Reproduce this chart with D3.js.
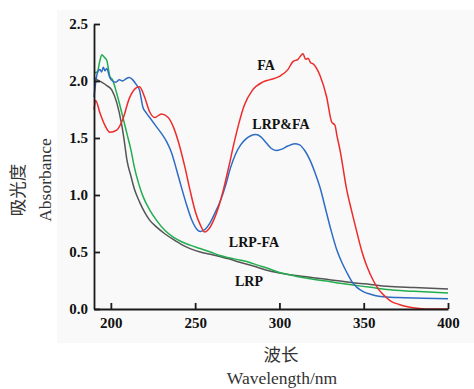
<!DOCTYPE html>
<html>
<head>
<meta charset="utf-8">
<script src="https://cdn.jsdelivr.net/npm/d3@7"></script>
<style>
  body { margin: 0; background: #fff; }
  .tick text { font-family: "Liberation Serif", serif; font-weight: bold; font-size: 15px; fill: #111; }
  .curve-label { font-family: "Liberation Serif", serif; font-weight: bold; font-size: 14px; fill: #111; }
  .axis-title { font-family: "Liberation Serif", serif; font-size: 17.5px; fill: #333; }
</style>
</head>
<body>
<div id="chart"></div>
<script>
// absorbance spectra, [wavelength nm, absorbance]
const faPoints = [
  [190, 1.75], [191, 1.83], [193.5, 1.72], [196.5, 1.61], [199.4, 1.55], [203.5, 1.57],
  [207, 1.66], [211, 1.85], [215, 1.94], [217, 1.95], [220, 1.86], [223, 1.73],
  [226, 1.68], [230, 1.71], [234, 1.68], [237, 1.60], [240, 1.47], [244, 1.24],
  [247, 1.04], [250, 0.86], [253, 0.74], [255.7, 0.675], [258, 0.70], [261, 0.78],
  [264, 0.90], [267, 1.06], [270, 1.25], [273, 1.45], [276, 1.63], [279, 1.78],
  [284, 1.92], [290, 1.99], [294, 2.01], [300, 2.04], [305, 2.10], [308, 2.17],
  [311, 2.19], [314, 2.24], [315.5, 2.19], [317, 2.20], [318.5, 2.16], [320, 2.15],
  [324, 2.05], [328, 1.86], [331, 1.64], [333, 1.61], [334, 1.53], [336, 1.39],
  [340, 1.04], [343, 0.85], [346, 0.67], [349, 0.50], [352, 0.37], [355, 0.27],
  [358, 0.19], [362, 0.12], [366, 0.07], [371, 0.04], [376, 0.02], [383, 0.005],
  [390, 0], [400, 0]
];
const lrpFaMixPoints = [
  [190, 1.86], [192, 2.07], [193.5, 2.10], [194.5, 2.08], [195.5, 2.12], [196.5, 2.09],
  [197.5, 2.11], [199.4, 2.03], [201, 2.00], [203, 1.99], [205, 2.01], [207, 2.00],
  [209, 2.02], [211, 2.03], [213, 2.01], [215, 1.97], [217, 1.92], [219, 1.77],
  [221, 1.72], [224, 1.66], [227, 1.60], [230, 1.54], [233, 1.47], [236, 1.37],
  [239, 1.22], [242, 1.06], [245, 0.91], [248, 0.78], [251, 0.70], [253, 0.68],
  [256, 0.70], [259, 0.76], [262, 0.85], [265, 0.95], [268, 1.08], [271, 1.24],
  [274, 1.36], [277, 1.44], [280, 1.49], [283, 1.52], [286, 1.53], [289, 1.51],
  [292, 1.46], [295, 1.41], [298, 1.39], [301, 1.40], [305, 1.43], [309, 1.45],
  [312, 1.44], [315, 1.39], [318, 1.31], [321, 1.20], [324, 1.07], [328, 0.84],
  [331, 0.67], [334, 0.52], [337, 0.41], [340, 0.32], [343, 0.24], [346, 0.19],
  [350, 0.15], [354, 0.13], [360, 0.11], [370, 0.10], [385, 0.095], [400, 0.09]
];
const lrpFaPoints = [
  [190, 2.07], [192, 2.08], [193.5, 2.18], [194.7, 2.23], [196, 2.21], [197.6, 2.18],
  [199.4, 2.04], [201, 2.01], [203.5, 1.89], [206.5, 1.72], [209.5, 1.54], [212, 1.39],
  [214, 1.24], [216.5, 1.10], [219, 0.99], [223, 0.87], [227, 0.78], [232, 0.69],
  [237, 0.63], [242, 0.59], [247, 0.56], [253, 0.53], [259, 0.50], [264.6, 0.47],
  [270, 0.45], [276.5, 0.43], [282, 0.41], [287, 0.385], [292.5, 0.36], [300, 0.32],
  [306, 0.30], [312, 0.28], [320, 0.26], [328, 0.245], [336, 0.225], [343.5, 0.21],
  [354, 0.19], [363.7, 0.17], [380, 0.155], [400, 0.14]
];
const lrpPoints = [
  [190, 2.03], [192, 2.01], [194.5, 1.99], [197.6, 1.96], [200.6, 1.92], [203.5, 1.81],
  [206.5, 1.61], [208, 1.47], [209.5, 1.31], [212, 1.16], [214, 1.05], [217, 0.94],
  [220, 0.85], [223, 0.78], [227, 0.72], [232, 0.66], [237, 0.61], [242, 0.565],
  [247, 0.53], [253, 0.50], [259, 0.48], [264.6, 0.46], [270, 0.44], [276.5, 0.41],
  [284, 0.38], [292.5, 0.34], [300, 0.316], [306, 0.30], [312, 0.29], [320, 0.275],
  [328, 0.26], [336, 0.245], [343.5, 0.23], [354, 0.215], [363.7, 0.20], [380, 0.188],
  [400, 0.175]
];

const seriesNames = ['FA', 'LRP&FA', 'LRP-FA', 'LRP'];
const seriesColors = ['#ee2b2b', '#2e6cc4', '#22ad4f', '#555555'];
const xTicks = [200, 250, 300, 350, 400];
const yTicks = [0.0, 0.5, 1.0, 1.5, 2.0, 2.5];

const width = 474, height = 389;
const margin = {top: 24, right: 26, bottom: 80, left: 94};

const x = d3.scaleLinear().domain([190, 400]).range([margin.left, width - margin.right]);
const y = d3.scaleLinear().domain([0, 2.5]).range([height - margin.bottom, margin.top]);

const svg = d3.select('#chart').append('svg')
  .attr('width', width)
  .attr('height', height);

// light panel behind the plot
svg.append('rect')
  .attr('x', 57).attr('y', 10)
  .attr('width', width - 57).attr('height', 333)
  .attr('fill', '#f9f9f9');

const drawLine = d3.line()
  .curve(d3.curveMonotoneX)
  .x(d => x(d[0]))
  .y(d => y(d[1]));

const allSeries = [faPoints, lrpFaMixPoints, lrpFaPoints, lrpPoints];

// draw back to front so red/blue sit on top
[3, 2, 1, 0].forEach(i => {
  svg.append('path')
    .datum(allSeries[i])
    .attr('fill', 'none')
    .attr('stroke', seriesColors[i])
    .attr('stroke-width', 1.5)
    .attr('d', drawLine);
});

svg.append('g')
  .attr('transform', 'translate(0,' + y(0) + ')')
  .call(d3.axisBottom(x).tickValues(xTicks).tickFormat(d3.format('d'))
    .tickSizeInner(-6).tickSizeOuter(0).tickPadding(8))
  .call(g => g.selectAll('line, path').attr('stroke', '#1a1a1a').attr('stroke-width', 1.8));

svg.append('g')
  .attr('transform', 'translate(' + x(190) + ',0)')
  .call(d3.axisLeft(y).tickValues(yTicks).tickFormat(d3.format('.1f'))
    .tickSizeInner(-6).tickSizeOuter(0).tickPadding(6))
  .call(g => g.selectAll('line, path').attr('stroke', '#1a1a1a').attr('stroke-width', 1.8));

// curve labels
const labelPos = [[266, 70], [281, 129], [254, 247], [249, 286]];
seriesNames.forEach((name, i) => {
  svg.append('text')
    .attr('class', 'curve-label')
    .attr('x', labelPos[i][0])
    .attr('y', labelPos[i][1])
    .attr('text-anchor', 'middle')
    .text(name);
});

// axis titles
svg.append('text')
  .attr('class', 'axis-title')
  .attr('transform', 'translate(24,190) rotate(-90)')
  .attr('text-anchor', 'middle')
  .style('font-family', '"Noto Sans CJK SC", serif')
  .text('吸光度');

svg.append('text')
  .attr('class', 'axis-title')
  .attr('transform', 'translate(51,180) rotate(-90)')
  .attr('text-anchor', 'middle')
  .text('Absorbance');

svg.append('text')
  .attr('class', 'axis-title')
  .attr('x', 281).attr('y', 361)
  .attr('text-anchor', 'middle')
  .style('font-family', '"Noto Sans CJK SC", serif')
  .text('波长');

svg.append('text')
  .attr('class', 'axis-title')
  .attr('x', 282).attr('y', 384)
  .attr('text-anchor', 'middle')
  .text('Wavelength/nm');
</script>
</body>
</html>
